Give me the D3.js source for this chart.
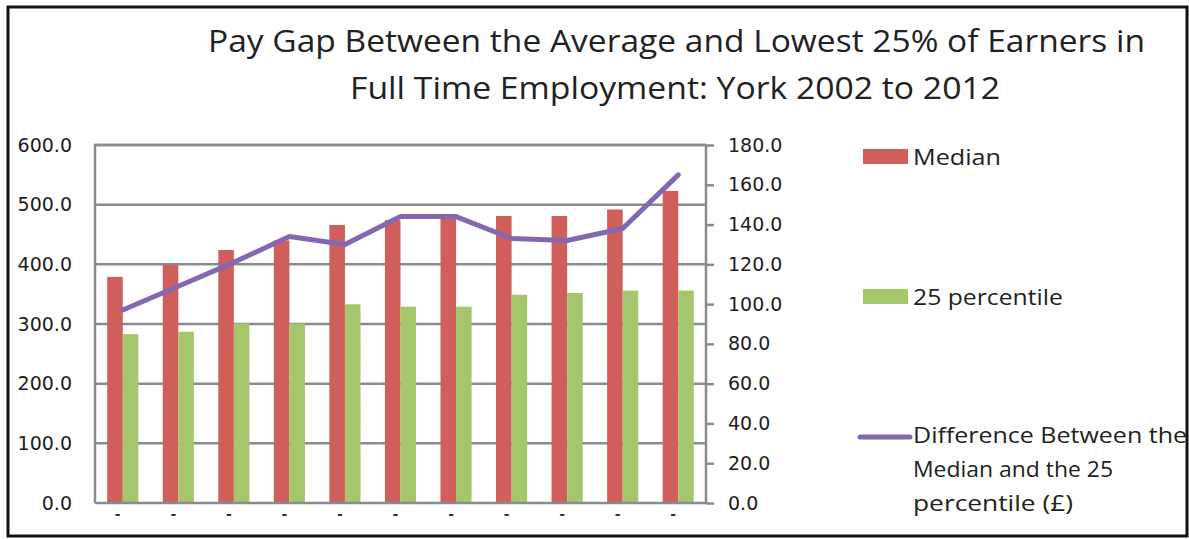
<!DOCTYPE html>
<html>
<head>
<meta charset="utf-8">
<script src="https://cdn.jsdelivr.net/npm/d3@7"></script>
<style>
  html, body { margin: 0; padding: 0; background: #fff; }
  svg { display: block; }
</style>
</head>
<body>
<svg id="chart" width="1189" height="539"></svg>
<script>
// ---- data ----
const years = ["2002","2003","2004","2005","2006","2007","2008","2009","2010","2011","2012"];
const median = [379, 399, 424, 440, 466, 474, 481, 481, 481, 492, 523];
const percentile25 = [283, 287, 301, 301, 333, 329, 329, 349, 352, 356, 356];
const difference = [97, 109, 121, 134, 130, 144, 144, 133, 132, 138, 165];
const leftTicks = [0, 100, 200, 300, 400, 500, 600];
const rightTicks = [0, 20, 40, 60, 80, 100, 120, 140, 160, 180];
const titleLines = ["Pay Gap Between the Average and Lowest 25% of Earners in",
                    "Full Time Employment: York 2002 to 2012"];
const legendItems = [
  {key: "median", label: ["Median"]},
  {key: "p25", label: ["25 percentile"]},
  {key: "diff", label: ["Difference Between the", "Median and the  25", "percentile (£)"]}
];

const colors = {median: "#d05e5a", p25: "#a6c66b", diff: "#8467b0"};
const gridColor = "#888b8f";

const svg = d3.select("#chart");

// outer frame
svg.append("rect").attr("x", 8).attr("y", 7).attr("width", 1179).attr("height", 529)
  .attr("fill", "#fff").attr("stroke", "#111").attr("stroke-width", 3);

// plot geometry
const L = 95, R = 706, T = 145, B = 503;

const x0 = d3.scaleBand().domain(years).range([L, R]).padding(0);
const bw = x0.bandwidth();
const x1 = d3.scaleBand().domain(["median", "p25"]).range([bw * 0.22, bw * 0.78]).padding(0);
const yL = d3.scaleLinear().domain([0, 600]).range([B, T]);
const yR = d3.scaleLinear().domain([0, 180]).range([B, T]);

// gridlines
svg.append("g").selectAll("line").data(leftTicks.filter(d => d > 0)).join("line")
  .attr("x1", L).attr("x2", R).attr("y1", d => yL(d)).attr("y2", d => yL(d))
  .attr("stroke", gridColor).attr("stroke-width", 2.5);

// bars
const rows = years.map((y, i) => ({year: y, median: median[i], p25: percentile25[i]}));
const g = svg.append("g");
g.selectAll("g").data(rows).join("g")
  .attr("transform", d => `translate(${x0(d.year)},0)`)
  .selectAll("rect").data(d => ["median", "p25"].map(k => ({k, v: d[k]}))).join("rect")
  .attr("x", d => x1(d.k)).attr("width", x1.bandwidth())
  .attr("y", d => yL(d.v)).attr("height", d => B - yL(d.v))
  .attr("fill", d => colors[d.k]);

// plot border (left, top, bottom)
svg.append("path").attr("d", `M${L},${B}V${T}H${R}`).attr("fill", "none")
  .attr("stroke", gridColor).attr("stroke-width", 2.5);
svg.append("line").attr("x1", L).attr("x2", R).attr("y1", B).attr("y2", B)
  .attr("stroke", gridColor).attr("stroke-width", 2.5);

// left axis labels
const axL = d3.axisLeft(yL).tickValues(leftTicks).tickSize(0).tickPadding(23)
  .tickFormat(d3.format(".1f"));
const gL = svg.append("g").attr("transform", `translate(${L},0)`).call(axL);
gL.select(".domain").remove();
gL.selectAll("text").attr("font-family", "DejaVu Sans").attr("font-size", 19).attr("fill", "#1c1c1c");

// right axis
const axR = d3.axisRight(yR).tickValues(rightTicks).tickSize(8).tickPadding(14)
  .tickFormat(d3.format(".1f"));
const gR = svg.append("g").attr("transform", `translate(${R},0)`).call(axR);
gR.select(".domain").attr("stroke", gridColor).attr("stroke-width", 2.5).attr("d", `M0,${T}V${B}`);
gR.selectAll(".tick line").attr("stroke", gridColor).attr("stroke-width", 2.5);
gR.selectAll("text").attr("font-family", "DejaVu Sans").attr("font-size", 19).attr("fill", "#1c1c1c");

// bottom axis with blank "-" labels
const axB = d3.axisBottom(x0).tickSize(0).tickPadding(6).tickFormat(() => "-");
const gB = svg.append("g").attr("transform", `translate(0,${B})`).call(axB);
gB.select(".domain").remove();
gB.selectAll("text").attr("font-family", "DejaVu Sans").attr("font-size", 14)
  .attr("font-weight", "bold").attr("fill", "#333").attr("dx", -5);

// difference line
const line = d3.line().x((d, i) => x0(years[i]) + bw / 2).y(d => yR(d));
svg.append("path").datum(difference).attr("d", line).attr("fill", "none")
  .attr("stroke", colors.diff).attr("stroke-width", 5).attr("stroke-linejoin", "round")
  .attr("stroke-linecap", "round");

// title
const titleX = [208, 350], titleY = [52, 99], titleW = [937, 650];
svg.append("g").selectAll("text").data(titleLines).join("text")
  .attr("x", (d, i) => titleX[i]).attr("y", (d, i) => titleY[i])
  .attr("textLength", (d, i) => titleW[i]).attr("lengthAdjust", "spacingAndGlyphs")
  .attr("font-family", "Open Sans").attr("font-size", 31).attr("fill", "#222")
  .text(d => d);

// legend
const legY = {median: 165, p25: 305, diff: 443};
const legW = {"Median": 88, "25 percentile": 150, "Difference Between the": 274,
              "Median and the  25": 200, "percentile (£)": 160};
const lg = svg.append("g");
legendItems.forEach(it => {
  const yb = legY[it.key];
  if (it.key === "diff") {
    lg.append("line").attr("x1", 860).attr("x2", 910).attr("y1", yb - 6).attr("y2", yb - 6)
      .attr("stroke", colors.diff).attr("stroke-width", 5).attr("stroke-linecap", "round");
  } else {
    lg.append("rect").attr("x", 863).attr("y", yb - 16).attr("width", 45).attr("height", 15)
      .attr("fill", colors[it.key]);
  }
  it.label.forEach((t, j) => {
    lg.append("text").attr("x", 913).attr("y", yb + j * 34)
      .attr("textLength", legW[t]).attr("lengthAdjust", "spacingAndGlyphs")
      .attr("font-family", "Open Sans").attr("font-size", 21).attr("fill", "#222")
      .text(t);
  });
});
</script>
</body>
</html>
